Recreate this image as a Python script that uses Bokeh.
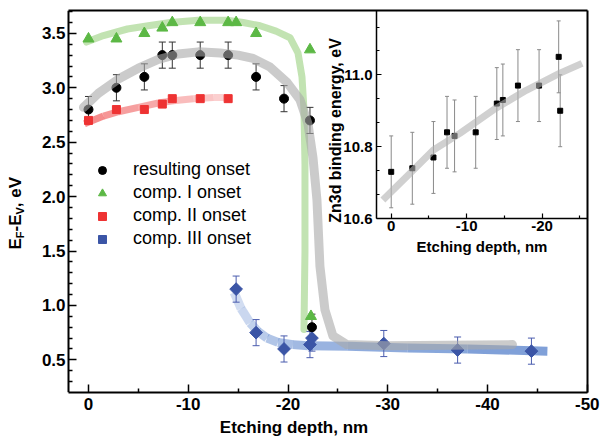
import numpy as np
from bokeh.plotting import figure
from bokeh.models import (Range1d, LinearAxis, FixedTicker, Label, Legend, LegendItem,
                          PrintfTickFormatter)
from bokeh.embed import file_html
from bokeh.resources import INLINE

FONT = "Liberation Sans"

# ---------------- data: main panel ----------------
res_x = [0, -2.8, -5.6, -7.4, -8.4, -11.2, -14.0, -16.8, -19.6, -22.2, -22.4]
res_y = [2.80, 3.00, 3.10, 3.30, 3.30, 3.30, 3.30, 3.10, 2.90, 2.70, 0.80]
res_err = [0.12, 0.12, 0.12, 0.12, 0.12, 0.12, 0.12, 0.12, 0.12, 0.12, 0.12]

c1_x = [0, -2.8, -5.6, -7.4, -8.4, -11.2, -14.0, -14.8, -16.8, -22.2, -22.3]
c1_y = [3.45, 3.45, 3.50, 3.55, 3.60, 3.60, 3.60, 3.60, 3.50, 3.35, 0.90]

c2_x = [0, -2.8, -5.6, -7.4, -8.4, -11.2, -14.0]
c2_y = [2.70, 2.80, 2.80, 2.85, 2.90, 2.90, 2.90]

c3_x = [-14.8, -16.8, -19.6, -22.2, -22.4, -29.6, -37.0, -44.4]
c3_y = [1.15, 0.75, 0.60, 0.64, 0.70, 0.65, 0.59, 0.58]
c3_err = [0.12, 0.12, 0.12, 0.12, 0.12, 0.12, 0.12, 0.12]

# guide curves
fit_res_x = [0.5, -1, -3, -5, -7, -9, -11, -13.2, -15, -16.5, -18.2, -19.9, -21.2, -22.0,
             -22.5, -22.9, -23.2, -23.7, -24.5, -25.9, -30, -36, -42.5]
fit_res_y = [2.82, 2.95, 3.08, 3.18, 3.26, 3.31, 3.33, 3.32, 3.30, 3.27, 3.19, 3.05, 2.89, 2.67,
             2.36, 1.97, 1.36, 0.96, 0.72, 0.64, 0.63, 0.635, 0.64]

fit_c1_x = [0.2, -1.5, -3.9, -6, -8.2, -11, -13.9, -15.5, -17.2, -18.8, -20.2, -21.0, -21.4,
            -21.6, -21.7, -21.7, -21.6]
fit_c1_y = [3.42, 3.48, 3.54, 3.57, 3.60, 3.62, 3.62, 3.60, 3.57, 3.52, 3.46, 3.32, 3.10,
            2.80, 2.30, 1.50, 0.78]

fit_c2_x = [0.4, -1.5, -3, -5, -7, -8.5, -10.5, -12.5, -14.2]
fit_c2_y = [2.67, 2.74, 2.78, 2.82, 2.86, 2.88, 2.90, 2.91, 2.91]

fit_c3_x = [-14.6, -15.3, -16.2, -17.0, -17.9, -19.0, -20.5, -22.0, -26.0, -32.0, -38.0, -46.0]
fit_c3_y = [1.12, 0.97, 0.84, 0.76, 0.70, 0.66, 0.64, 0.63, 0.625, 0.61, 0.60, 0.58]

x_major = [0, -10, -20, -30, -40, -50]
x_minor = [-5, -15, -25, -35, -45]
y_major = [0.5, 1.0, 1.5, 2.0, 2.5, 3.0, 3.5]

# ---------------- data: inset ----------------
in_x = [0, -2.8, -5.6, -7.4, -8.4, -11.2, -14.0, -14.8, -16.8, -19.6, -22.2, -22.4]
in_y = [10.73, 10.74, 10.77, 10.84, 10.83, 10.84, 10.92, 10.93, 10.97, 10.97, 11.05, 10.90]
in_err = [0.10, 0.10, 0.10, 0.10, 0.10, 0.10, 0.10, 0.10, 0.10, 0.10, 0.10, 0.10]

fit_in_x = [1.1, -2.5, -5.6, -9.1, -13.5, -17.9, -22.3, -25.3]
fit_in_y = [10.652, 10.726, 10.791, 10.837, 10.902, 10.957, 11.004, 11.032]

in_x_major = [0, -10, -20]
in_x_minor = [-5, -15, -25]
in_y_major = [10.6, 10.8, 11.0]

# ---------------- figure ----------------
# frame spans the canvas from the left edge; the plotting box is drawn by bounded axes
X_LEFT, X_RIGHT = 2.0, -50.02
Y_LOW, Y_HIGH = 0.2, 3.71
p = figure(width=601, height=439, output_backend="svg", toolbar_location=None,
           x_range=Range1d(8.82, X_RIGHT), y_range=Range1d(Y_LOW, Y_HIGH),
           min_border_left=0, min_border_right=14, min_border_top=10, min_border_bottom=46)
p.background_fill_color = "white"
p.border_fill_color = "white"
p.grid.visible = False
p.outline_line_color = None

main_x = p.xaxis[0]
main_y = p.yaxis[0]
y_minor = [round(v / 10, 1) for v in range(3, 38) if v % 5 != 0]
main_x.ticker = FixedTicker(ticks=x_major, minor_ticks=x_minor)
main_y.ticker = FixedTicker(ticks=y_major, minor_ticks=y_minor)
main_x.formatter = PrintfTickFormatter(format="%d")
main_y.formatter = PrintfTickFormatter(format="%.1f")
main_x.bounds = (X_RIGHT, X_LEFT)
main_y.fixed_location = X_LEFT
for ax in (main_x, main_y):
    ax.axis_line_width = 2
    ax.axis_line_color = "black"
    ax.major_tick_in = 8
    ax.major_tick_out = 0
    ax.minor_tick_in = 4
    ax.minor_tick_out = 0
    ax.major_tick_line_width = 1.5
    ax.minor_tick_line_width = 1.5
    ax.major_tick_line_color = "black"
    ax.minor_tick_line_color = "black"
    ax.major_label_text_font = FONT
    ax.major_label_text_font_style = "bold"
    ax.major_label_text_font_size = "17px"
    ax.major_label_text_color = "black"
main_y.major_label_standoff = 3
main_x.major_label_standoff = 5
main_x.axis_label = "Etching depth, nm"
main_x.axis_label_text_font = FONT
main_x.axis_label_text_font_style = "bold"
main_x.axis_label_text_font_size = "17px"
main_x.axis_label_text_color = "black"
main_x.axis_label_standoff = 5

# top and right edges of the plotting box
top_edge = LinearAxis(ticker=FixedTicker(ticks=[]), bounds=(X_RIGHT, X_LEFT),
                      axis_line_width=2, major_tick_out=0, minor_tick_out=0,
                      major_label_standoff=0, major_label_text_font_size="0px")
right_edge = LinearAxis(ticker=FixedTicker(ticks=[]), bounds=(Y_LOW, Y_HIGH),
                        axis_line_width=2, major_tick_out=0, minor_tick_out=0,
                        major_label_standoff=0, major_label_text_font_size="0px")
p.add_layout(top_edge, "above")
p.add_layout(right_edge, "right")


def grad_line(xs, ys, color, a0, a1, width, **kw):
    n = len(xs) - 1
    alphas = [a0 + (a1 - a0) * i / max(n - 1, 1) for i in range(n)]
    return p.segment(x0=xs[:-1], y0=ys[:-1], x1=xs[1:], y1=ys[1:], line_color=color,
                     line_alpha=alphas, line_width=width, line_cap="butt", **kw)


def err_bars(xs, ys, es, color, cap, width=1, **kw):
    lo = [y - e for y, e in zip(ys, es)]
    hi = [y + e for y, e in zip(ys, es)]
    p.segment(x0=xs, y0=lo, x1=xs, y1=hi, line_color=color, line_width=width, **kw)
    p.scatter(xs + xs, lo + hi, marker="dash", size=cap, line_color=color, line_width=width, **kw)


# guide curves behind the markers
grad_line(fit_c3_x, fit_c3_y, "#4a78c8", 0.25, 0.7, 9)
grad_line(fit_c2_x, fit_c2_y, "#ee4040", 0.6, 0.25, 7)
p.line(fit_c1_x, fit_c1_y, line_color="#86c866", line_alpha=0.5, line_width=7,
       line_join="round", line_cap="round")

# error bars
err_bars(res_x, res_y, res_err, "#333333", 7)
err_bars(c3_x, c3_y, c3_err, "#4a5cae", 7)

# markers
r_c2 = p.scatter(c2_x, c2_y, marker="square", size=8, fill_color="#ee3333", line_color="#ee3333")
r_c1 = p.scatter(c1_x, c1_y, marker="triangle", size=11, fill_color="#5cb845", line_color="#5cb845")
r_c3 = p.scatter(c3_x, c3_y, marker="square", angle=np.pi / 4, size=9, fill_color="#3b55a6",
                 line_color="#3b55a6")
r_res = p.scatter(res_x, res_y, marker="circle", size=9, fill_color="black", line_color="black")

# grey guide curve over the black circles
p.line(fit_res_x, fit_res_y, line_color="#a8a8a8", line_alpha=0.6, line_width=9,
       line_join="round", line_cap="round")

legend = Legend(items=[LegendItem(label="resulting onset", renderers=[r_res]),
                       LegendItem(label="comp. I onset", renderers=[r_c1]),
                       LegendItem(label="comp. II onset", renderers=[r_c2]),
                       LegendItem(label="comp. III onset", renderers=[r_c3])],
                location=(92, 143), orientation="vertical", padding=0, margin=0, spacing=2,
                glyph_width=20, glyph_height=20, label_height=20, label_standoff=21,
                background_fill_alpha=0, border_line_alpha=0,
                label_text_font=FONT, label_text_font_size="18px", label_text_color="black")
p.add_layout(legend)

# main y axis label with subscripts: E_F-E_V, eV
ylab = [("E", "17px", 0, 143.0), ("F", "11px", 4, 154.3), ("-E", "17px", 0, 161.0),
        ("V", "11px", 4, 178.0), (", eV", "17px", 0, 185.3)]
for txt, fs, dx, yy in ylab:
    p.add_layout(Label(x=15 + dx, y=yy, x_units="screen", y_units="screen", text=txt,
                       angle=np.pi / 2, text_align="left", text_baseline="alphabetic",
                       text_font=FONT, text_font_style="bold", text_font_size=fs,
                       text_color="black"))

# ---------------- inset ----------------
IX_LEFT, IX_RIGHT = 1.95, -26.02
IY_LOW, IY_HIGH = 10.599, 11.179
p.extra_x_ranges = {"ix": Range1d(51.79, IX_RIGHT)}
p.extra_y_ranges = {"iy": Range1d(10.116, IY_HIGH)}
in_y_minor = [10.667, 10.733, 10.867, 10.933, 11.067, 11.133]

iy_axis = LinearAxis(x_range_name="ix", y_range_name="iy", fixed_location=IX_LEFT,
                     bounds=(IY_LOW, IY_HIGH),
                     ticker=FixedTicker(ticks=in_y_major, minor_ticks=in_y_minor),
                     formatter=PrintfTickFormatter(format="%.1f"))
ix_axis = LinearAxis(x_range_name="ix", y_range_name="iy", fixed_location=IY_LOW,
                     bounds=(IX_RIGHT, IX_LEFT),
                     ticker=FixedTicker(ticks=in_x_major, minor_ticks=in_x_minor),
                     formatter=PrintfTickFormatter(format="%d"))
for ax in (iy_axis, ix_axis):
    ax.axis_line_width = 1.5
    ax.axis_line_color = "black"
    ax.major_tick_in = 5
    ax.major_tick_out = 0
    ax.minor_tick_in = 3
    ax.minor_tick_out = 0
    ax.major_tick_line_width = 1.2
    ax.minor_tick_line_width = 1.2
    ax.major_label_text_font = FONT
    ax.major_label_text_font_style = "bold"
    ax.major_label_text_font_size = "15px"
    ax.major_label_text_color = "black"
iy_axis.major_label_standoff = 4
ix_axis.major_label_standoff = 2
ix_axis.axis_label = "Etching depth, nm"
ix_axis.axis_label_text_font = FONT
ix_axis.axis_label_text_font_style = "bold"
ix_axis.axis_label_text_font_size = "15px"
ix_axis.axis_label_text_color = "black"
ix_axis.axis_label_standoff = 4
p.add_layout(iy_axis, "left")
p.add_layout(ix_axis, "below")

err_bars(in_x, in_y, in_err, "#8a8a8a", 4, width=1, x_range_name="ix", y_range_name="iy")
p.scatter(in_x, in_y, marker="square", size=5, fill_color="black", line_color="black",
          x_range_name="ix", y_range_name="iy")
p.line(fit_in_x, fit_in_y, line_color="#b0b0b0", line_alpha=0.6, line_width=7,
       line_join="round", line_cap="butt", x_range_name="ix", y_range_name="iy")

p.add_layout(Label(x=335, y=262, x_units="screen", y_units="screen",
                   text="Zn3d binding energy, eV", angle=np.pi / 2, text_align="center",
                   text_baseline="alphabetic", text_font=FONT, text_font_style="bold",
                   text_font_size="16px", text_color="black"))

open("out.html", "w").write(file_html(p, INLINE))
